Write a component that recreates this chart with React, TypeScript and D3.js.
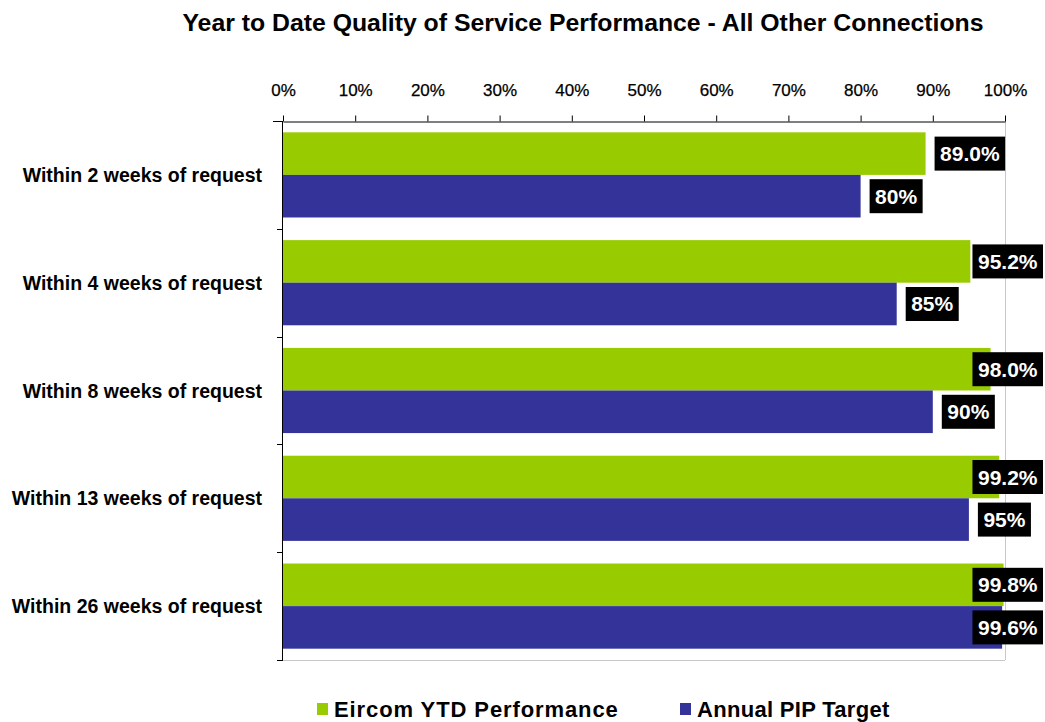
import { useEffect, useRef } from 'react';
import * as d3 from 'd3';

const categories = [
  'Within 2 weeks of request',
  'Within 4 weeks of request',
  'Within 8 weeks of request',
  'Within 13 weeks of request',
  'Within 26 weeks of request',
];
const ytdValues = [89.0, 95.2, 98.0, 99.2, 99.8];
const targetValues = [80, 85, 90, 95, 99.6];
const ytdLabels = ['89.0%', '95.2%', '98.0%', '99.2%', '99.8%'];
const targetLabels = ['80%', '85%', '90%', '95%', '99.6%'];
const xTicks = [0, 10, 20, 30, 40, 50, 60, 70, 80, 90, 100];

const GREEN = '#99CC00';
const BLUE = '#333399';
const FONT = '"Liberation Sans", Arial, sans-serif';

export default function App() {
  const svgRef = useRef<SVGSVGElement | null>(null);

  useEffect(() => {
    if (!svgRef.current) return;
    const svg = d3.select(svgRef.current);
    svg.selectAll('*').remove();

    const left = 283;
    const right = 1005;
    const top = 121;
    const bottom = 660;

    const x = d3.scaleLinear().domain([0, 100]).range([left, right]);
    const y = d3
      .scaleBand<string>()
      .domain(categories)
      .range([top, bottom])
      .paddingInner(0.21)
      .paddingOuter(0.105);
    const sub = d3.scaleBand<string>().domain(['ytd', 'target']).range([0, y.bandwidth()]);

    // Title
    svg
      .append('text')
      .attr('x', 583)
      .attr('y', 31)
      .attr('text-anchor', 'middle')
      .attr('font-family', FONT)
      .attr('font-weight', 'bold')
      .attr('font-size', '24.8px')
      .attr('fill', '#000')
      .text('Year to Date Quality of Service Performance - All Other Connections');

    // Plot frame (right & bottom light gray)
    svg
      .append('line')
      .attr('x1', right + 0.5)
      .attr('x2', right + 0.5)
      .attr('y1', top)
      .attr('y2', bottom)
      .attr('stroke', '#c8c8c8');
    svg
      .append('line')
      .attr('x1', left)
      .attr('x2', right)
      .attr('y1', bottom + 0.5)
      .attr('y2', bottom + 0.5)
      .attr('stroke', '#c8c8c8');

    // Top axis
    const xAxis = svg
      .append('g')
      .attr('transform', `translate(0,${top + 0.5})`)
      .call(
        d3
          .axisTop(x)
          .tickValues(xTicks)
          .tickSize(6)
          .tickSizeOuter(0)
          .tickFormat((d) => `${d}%`)
      );
    xAxis.select('.domain').attr('stroke', '#000');
    xAxis.selectAll('.tick line').attr('stroke', '#000');
    xAxis
      .selectAll('.tick text')
      .attr('y', -26)
      .attr('font-family', FONT)
      .attr('font-size', '17px')
      .attr('stroke', '#000')
      .attr('stroke-width', 0.25)
      .attr('fill', '#000');
    svg
      .append('line')
      .attr('x1', left - 10)
      .attr('x2', left)
      .attr('y1', top + 0.5)
      .attr('y2', top + 0.5)
      .attr('stroke', '#000');

    // Left axis
    svg
      .append('line')
      .attr('x1', left - 0.5)
      .attr('x2', left - 0.5)
      .attr('y1', top)
      .attr('y2', bottom)
      .attr('stroke', '#000');
    categories.forEach((c) => {
      const yy = Math.round((y(c) ?? 0) + y.bandwidth() + (y.step() - y.bandwidth()) / 2) + 0.5;
      svg
        .append('line')
        .attr('x1', left - 6)
        .attr('x2', left)
        .attr('y1', yy)
        .attr('y2', yy)
        .attr('stroke', '#000');
    });

    // Category labels
    svg
      .append('g')
      .selectAll('text')
      .data(categories)
      .join('text')
      .attr('x', 262)
      .attr('y', (d) => (y(d) ?? 0) + y.bandwidth() / 2 + 7)
      .attr('text-anchor', 'end')
      .attr('font-family', FONT)
      .attr('font-weight', 'bold')
      .attr('font-size', '19.5px')
      .attr('fill', '#000')
      .text((d) => d);

    const series = [
      { key: 'ytd', values: ytdValues, labels: ytdLabels, color: GREEN },
      { key: 'target', values: targetValues, labels: targetLabels, color: BLUE },
    ];

    series.forEach((s) => {
      const g = svg.append('g');
      g.selectAll('rect')
        .data(categories)
        .join('rect')
        .attr('x', x(0))
        .attr('y', (d) => (y(d) ?? 0) + (sub(s.key) ?? 0))
        .attr('width', (_d, i) => x(s.values[i]) - x(0))
        .attr('height', sub.bandwidth())
        .attr('fill', s.color);

      categories.forEach((c, i) => {
        const cy = (y(c) ?? 0) + (sub(s.key) ?? 0) + sub.bandwidth() / 2;
        const lg = svg.append('g');
        const t = lg
          .append('text')
          .attr('font-family', FONT)
          .attr('font-weight', 'bold')
          .attr('font-size', '21px')
          .attr('fill', '#fff')
          .attr('text-anchor', 'start')
          .text(s.labels[i]);
        const w = (t.node() as SVGTextElement).getComputedTextLength();
        const boxW = w + 11;
        const boxH = 34;
        let bx = x(s.values[i]) + 9;
        if (bx + boxW > 1043) bx = 1043 - boxW;
        lg.insert('rect', 'text')
          .attr('x', bx)
          .attr('y', cy - boxH / 2)
          .attr('width', boxW)
          .attr('height', boxH)
          .attr('fill', '#000');
        t.attr('x', bx + 5.5).attr('y', cy + 7.5);
      });
    });

    // Legend
    const legend = [
      { label: 'Eircom YTD Performance', color: GREEN, x: 317, spacing: 0.9 },
      { label: 'Annual PIP Target', color: BLUE, x: 680, spacing: 0.3 },
    ];
    legend.forEach((l) => {
      svg
        .append('rect')
        .attr('x', l.x)
        .attr('y', 703)
        .attr('width', 11)
        .attr('height', 12)
        .attr('fill', l.color);
      svg
        .append('text')
        .attr('x', l.x + 17)
        .attr('y', 717)
        .attr('font-family', FONT)
        .attr('font-weight', 'bold')
        .attr('font-size', '22px')
        .attr('letter-spacing', `${l.spacing}px`)
        .attr('fill', '#000')
        .text(l.label);
    });
  }, []);

  return (
    <svg
      ref={svgRef}
      width={1045}
      height={722}
      style={{ position: 'absolute', left: 0, top: 0, background: '#fff' }}
    />
  );
}
